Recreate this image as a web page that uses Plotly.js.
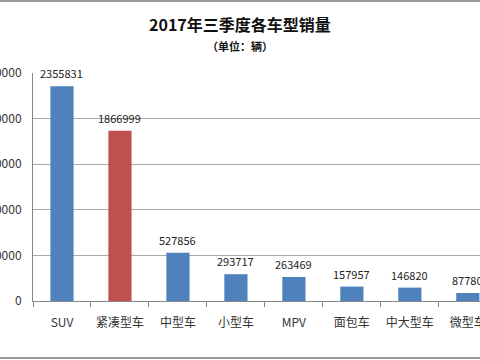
<!DOCTYPE html>
<html>
<head>
<meta charset="utf-8">
<script src="https://cdn.plot.ly/plotly-3.0.1.min.js"></script>
<style>html,body{margin:0;padding:0;background:#fff;}#chart{width:480px;height:360px;}</style>
</head>
<body>
<div id="chart"></div>
<script>
const categories = ["SUV", "紧凑型车", "中型车", "小型车", "MPV", "面包车", "中大型车", "微型车"];
const sales = [2355831, 1866999, 527856, 293717, 263469, 157957, 146820, 87780];
const barColors = ["#4F81BD", "#C0504D", "#4F81BD", "#4F81BD", "#4F81BD", "#4F81BD", "#4F81BD", "#4F81BD"];
const yTicks = [0, 500000, 1000000, 1500000, 2000000, 2500000];

const fontFam = "'Noto Sans CJK SC', 'Noto Sans', sans-serif";

const trace = {
  type: "bar",
  x: categories,
  y: sales,
  width: 0.4,
  marker: {color: barColors},
  cliponaxis: false,
  hoverinfo: "none"
};

const valueLabels = categories.map((c, i) => ({
  x: c, y: sales[i], xref: "x", yref: "y",
  text: String(sales[i]), showarrow: false,
  xanchor: "center", yanchor: "middle", yshift: 13,
  font: {family: fontFam, size: 11, color: "#222"}
}));

const layout = {
  width: 480,
  height: 360,
  margin: {l: 33, r: 0, t: 73, b: 59},
  paper_bgcolor: "#ffffff",
  plot_bgcolor: "#ffffff",
  showlegend: false,
  font: {family: fontFam, color: "#333"},
  xaxis: {
    range: [-0.5, 7.21],
    showline: true,
    linecolor: "#888",
    linewidth: 1,
    ticks: "outside",
    tickson: "boundaries",
    ticklen: 5,
    tickcolor: "#888",
    ticklabelstandoff: 11,
    tickfont: {family: fontFam, size: 12, color: "#333"},
    showgrid: false,
    zeroline: false,
    fixedrange: true
  },
  yaxis: {
    range: [0, 2500000],
    tickvals: yTicks,
    ticktext: yTicks.map(String),
    showline: true,
    linecolor: "#888",
    linewidth: 1,
    showgrid: true,
    gridcolor: "#aaaaaa",
    gridwidth: 1,
    zeroline: false,
    ticks: "",
    ticklabelstandoff: 8,
    tickfont: {family: fontFam, size: 12, color: "#333"},
    fixedrange: true
  },
  annotations: valueLabels.concat([
    {text: "<b>2017年三季度各车型销量</b>", xref: "paper", yref: "paper",
     x: (240 - 33) / 447, y: 1 + (73 - 24) / 228, xanchor: "center", yanchor: "middle",
     showarrow: false, font: {family: fontFam, size: 16, color: "#111"}},
    {text: "<b>（单位：辆）</b>", xref: "paper", yref: "paper",
     x: (240 - 33) / 447, y: 1 + (73 - 46) / 228, xanchor: "center", yanchor: "middle",
     showarrow: false, font: {family: fontFam, size: 11, color: "#111"}}
  ]),
  shapes: [
    {type: "line", xref: "paper", yref: "paper", x0: -33 / 447, x1: 1.2, y0: 1 + 72 / 228, y1: 1 + 72 / 228,
     line: {color: "#999", width: 2}},
    {type: "line", xref: "paper", yref: "paper", x0: -33 / 447, x1: 1.2, y0: -57 / 228, y1: -57 / 228,
     line: {color: "#999", width: 2}}
  ]
};

Plotly.newPlot("chart", [trace], layout, {staticPlot: true, displayModeBar: false});
</script>
</body>
</html>
